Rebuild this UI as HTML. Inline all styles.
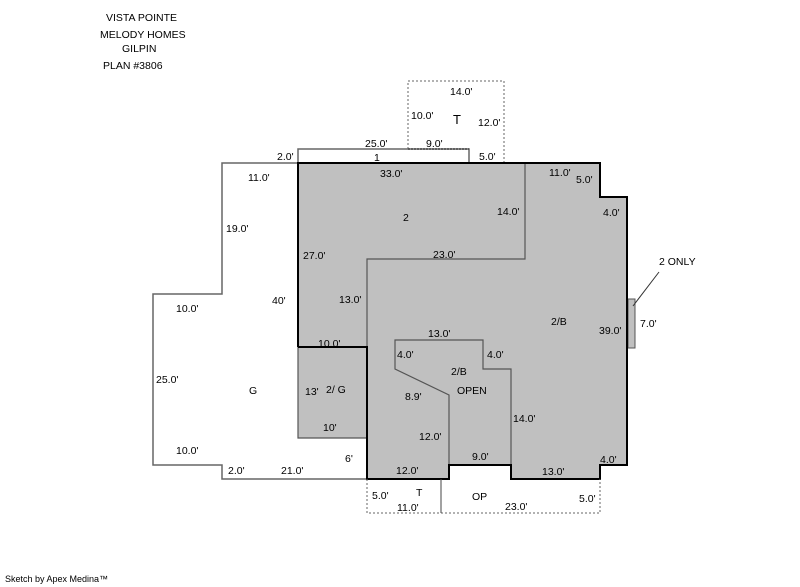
<!DOCTYPE html>
<html><head><meta charset="utf-8"><style>
html,body{margin:0;padding:0;background:#fff;}
svg{display:block;}
text{font-family:"Liberation Sans",sans-serif;font-size:10.5px;fill:#000;}
</style></head><body>
<svg width="800" height="587" viewBox="0 0 800 587" xmlns="http://www.w3.org/2000/svg">
<!-- main shaded -->
<polygon points="298,163 600,163 600,197 627,197 627,465 600,465 600,479 511,479 511,465 449,465 449,479 367,479 367,438 298,438" fill="#c0c0c0" stroke="none"/>
<rect x="628" y="299" width="7" height="49" fill="#c0c0c0" stroke="#555" stroke-width="1"/>
<!-- garage / white areas -->
<polyline points="298,163 222,163 222,294 153,294 153,465 222,465 222,479 367,479" fill="none" stroke="#666" stroke-width="1.5"/>
<polyline points="298,163 298,149 469,149 469,163" fill="none" stroke="#666" stroke-width="1.5"/>
<polyline points="408,149 408,81 504,81 504,163" fill="none" stroke="#666" stroke-width="1" stroke-dasharray="2,2"/>
<line x1="408" y1="149" x2="469" y2="149" stroke="#444" stroke-width="1.5" stroke-dasharray="2,1"/>
<!-- inner grey lines -->
<polyline points="525,163 525,259 367,259 367,347" fill="none" stroke="#555" stroke-width="1.2"/>
<polyline points="298,347 298,438 367,438" fill="none" stroke="#555" stroke-width="1.2"/>
<polyline points="449,465 449,395 395,369 395,340 483,340 483,369 511,369 511,465" fill="none" stroke="#555" stroke-width="1.2"/>
<!-- main black outline -->
<polyline points="298,347 298,163 600,163 600,197 627,197 627,465 600,465 600,479 511,479 511,465 449,465 449,479 367,479 367,347 298,347" fill="none" stroke="#000" stroke-width="2"/>
<!-- bottom dotted -->
<polyline points="367,479 367,513 600,513 600,479" fill="none" stroke="#666" stroke-width="1" stroke-dasharray="2,2"/>
<line x1="441" y1="479" x2="441" y2="513" stroke="#444" stroke-width="1"/>
<line x1="633" y1="306" x2="659" y2="272" stroke="#333" stroke-width="1"/>
<!-- header -->
<text x="106" y="21">VISTA POINTE</text>
<text x="100" y="38">MELODY HOMES</text>
<text x="122" y="52">GILPIN</text>
<text x="103" y="69">PLAN #3806</text>
<text x="5" y="582" style="font-size:9px">Sketch by Apex Medina™</text>
<!-- labels -->
<text x="450" y="95">14.0'</text>
<text x="411" y="119">10.0'</text>
<text x="453" y="124" style="font-size:13px">T</text>
<text x="478" y="126">12.0'</text>
<text x="365" y="147">25.0'</text>
<text x="426" y="147">9.0'</text>
<text x="277" y="160">2.0'</text>
<text x="374" y="161">1</text>
<text x="479" y="160">5.0'</text>
<text x="248" y="181">11.0'</text>
<text x="380" y="177">33.0'</text>
<text x="549" y="176">11.0'</text>
<text x="576" y="183">5.0'</text>
<text x="603" y="216">4.0'</text>
<text x="403" y="221">2</text>
<text x="497" y="215">14.0'</text>
<text x="226" y="232">19.0'</text>
<text x="303" y="259">27.0'</text>
<text x="433" y="258">23.0'</text>
<text x="659" y="265">2 ONLY</text>
<text x="272" y="304">40'</text>
<text x="339" y="303">13.0'</text>
<text x="176" y="312">10.0'</text>
<text x="551" y="325">2/B</text>
<text x="599" y="334">39.0'</text>
<text x="640" y="327">7.0'</text>
<text x="428" y="337">13.0'</text>
<text x="318" y="347">10.0'</text>
<text x="397" y="358">4.0'</text>
<text x="487" y="358">4.0'</text>
<text x="451" y="375">2/B</text>
<text x="457" y="394">OPEN</text>
<text x="156" y="383">25.0'</text>
<text x="249" y="394">G</text>
<text x="305" y="395">13'</text>
<text x="326" y="393">2/ G</text>
<text x="405" y="400">8.9'</text>
<text x="513" y="422">14.0'</text>
<text x="323" y="431">10'</text>
<text x="419" y="440">12.0'</text>
<text x="176" y="454">10.0'</text>
<text x="345" y="462">6'</text>
<text x="472" y="460">9.0'</text>
<text x="600" y="463">4.0'</text>
<text x="228" y="474">2.0'</text>
<text x="281" y="474">21.0'</text>
<text x="396" y="474">12.0'</text>
<text x="542" y="475">13.0'</text>
<text x="372" y="499">5.0'</text>
<text x="416" y="496">T</text>
<text x="472" y="500">OP</text>
<text x="579" y="502">5.0'</text>
<text x="397" y="511">11.0'</text>
<text x="505" y="510">23.0'</text>
</svg>
</body></html>
